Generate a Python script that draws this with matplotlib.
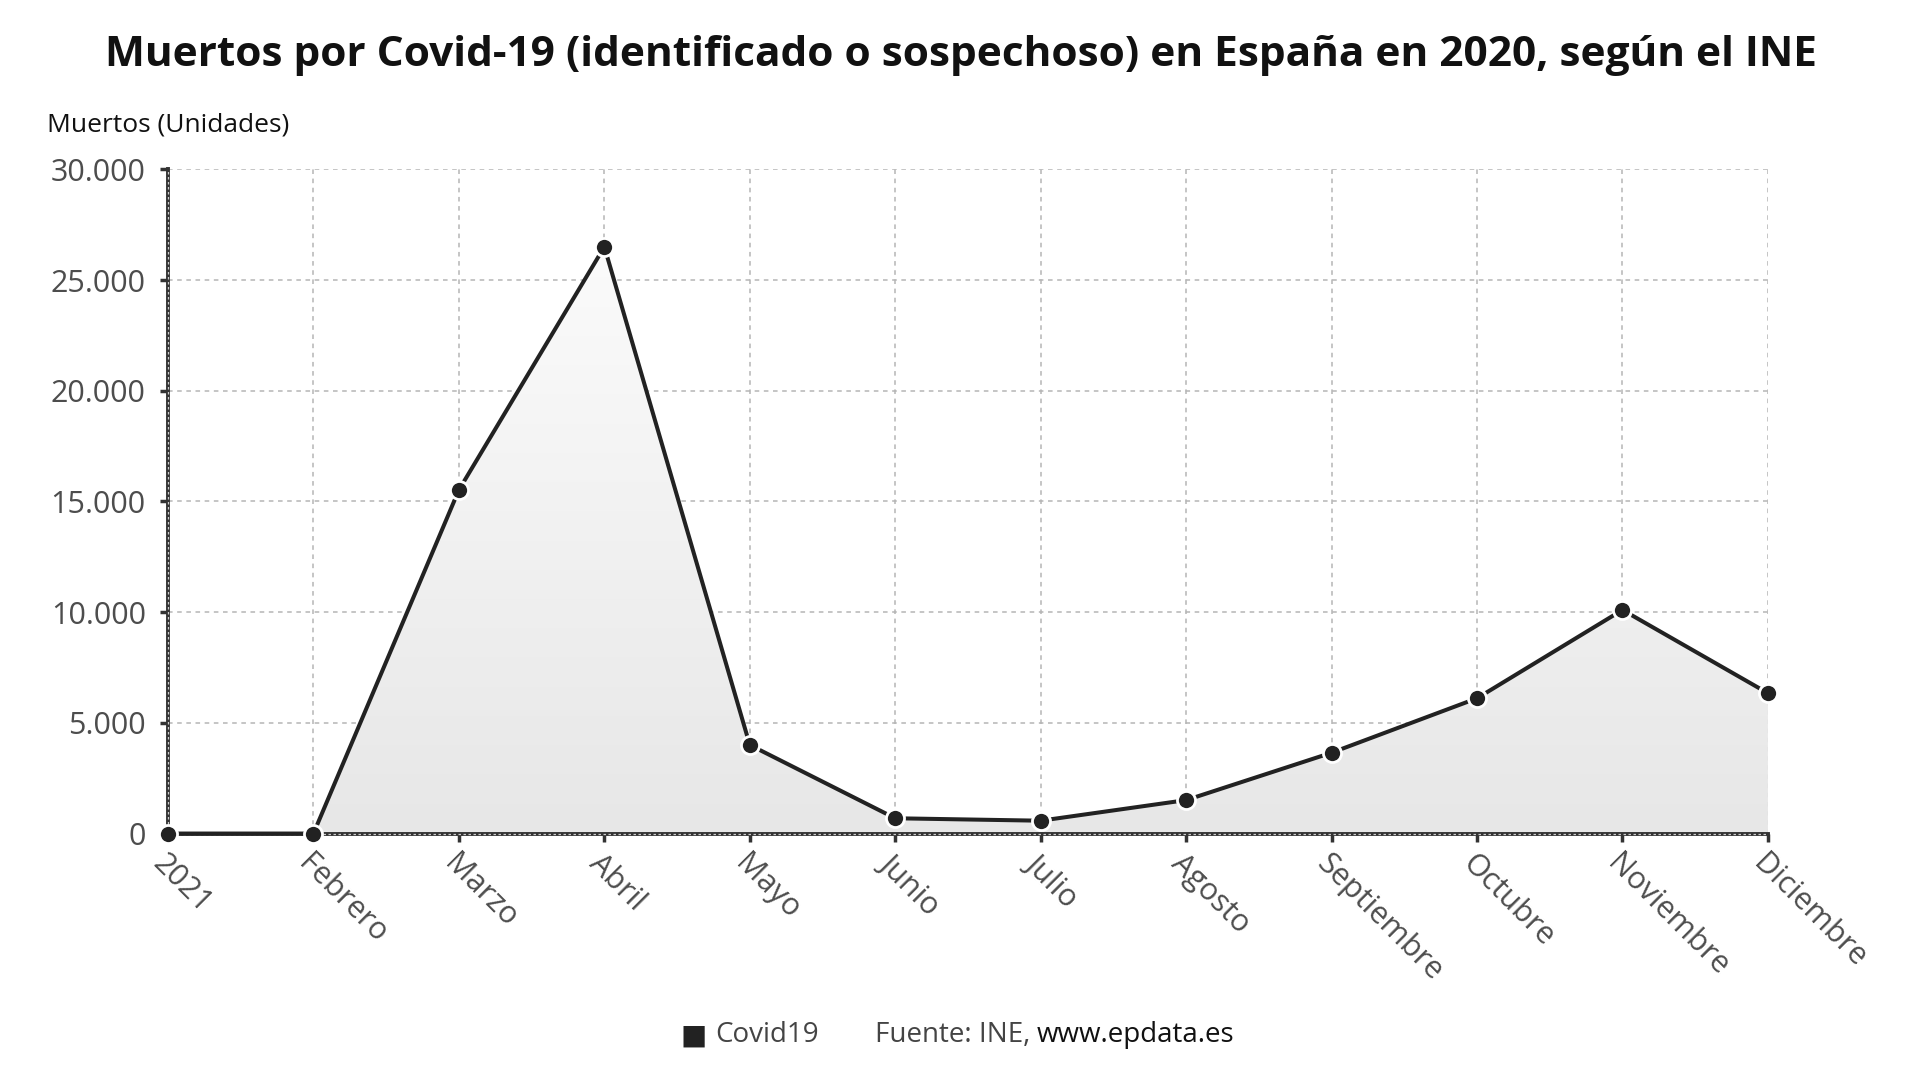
import numpy as np
import matplotlib
matplotlib.use("Agg")
import matplotlib.pyplot as plt
from matplotlib.patches import Polygon
from matplotlib.colors import LinearSegmentedColormap

plt.rcParams['font.family'] = ['Open Sans', 'DejaVu Sans']

# datos (muertes por mes)
meses = ['2021', 'Febrero', 'Marzo', 'Abril', 'Mayo', 'Junio', 'Julio',
         'Agosto', 'Septiembre', 'Octubre', 'Noviembre', 'Diciembre']
muertos = [0, 0, 15520, 26500, 4000, 690, 580, 1510, 3650, 6110, 10100, 6340]
y_ticks = [0, 5000, 10000, 15000, 20000, 25000, 30000]
y_labels = ['0', '5.000', '10.000', '15.000', '20.000', '25.000', '30.000']

x = np.arange(len(meses))

fig = plt.figure(figsize=(19.2, 10.8), dpi=100)
ax = fig.add_axes([0.0875, 0.2282, 0.8333, 0.615])
ax.set_xlim(0, len(meses) - 1)
ax.set_ylim(0, 30000)

# relleno con degradado bajo la curva
grad = np.linspace(0, 1, 256).reshape(-1, 1)
img = ax.imshow(grad, extent=[0, len(meses) - 1, 0, max(muertos)], origin='lower',
                cmap=LinearSegmentedColormap.from_list('g', ['#e7e7e7', '#fbfbfb']),
                aspect='auto', zorder=1)
poly = Polygon(np.column_stack([np.r_[x, x[::-1]], np.r_[muertos, np.zeros(len(x))]]),
               closed=True, facecolor='none', edgecolor='none')
ax.add_patch(poly)
img.set_clip_path(poly)

ax.grid(True, color='#b5b5b5', linestyle=(0, (3, 3)), linewidth=1.1, zorder=0)
ax.set_axisbelow(True)

ax.plot(x, muertos, '-o', color='#222222', lw=2.9, ms=13, mfc='#222222',
        mec='white', mew=2.0, zorder=5, clip_on=False)

for s in ['top', 'right']:
    ax.spines[s].set_visible(False)
for s in ['left', 'bottom']:
    ax.spines[s].set_color('#333333')
    ax.spines[s].set_linewidth(2.8)
    ax.spines[s].set_zorder(3)
ax.plot([0, 0], [0, 30000], color='#cccccc', lw=0.9, ls=(0, (2, 2)), zorder=4, clip_on=False)
ax.plot([0, len(meses) - 1], [0, 0], color='#cccccc', lw=0.9, ls=(0, (2, 2)), zorder=4, clip_on=False)

ax.set_yticks(y_ticks)
ax.set_yticklabels(y_labels)
ax.set_xticks(x)
ax.set_xticklabels(meses, rotation=-45, ha='left', va='top', rotation_mode='anchor')
ax.tick_params(axis='both', colors='#333333', length=6, width=2.5, labelcolor='#4d4d4d',
               labelsize=22)
ax.tick_params(axis='y', pad=10)
ax.tick_params(axis='x', pad=5)

fig.text(0.5005, 0.949, 'Muertos por Covid-19 (identificado o sospechoso) en España en 2020, según el INE',
         ha='center', va='center', fontsize=30.5, fontweight='bold', color='#111111')
fig.text(0.0245, 0.884, 'Muertos (Unidades)', ha='left', va='center', fontsize=19,
         color='#111111')

# leyenda y fuente
ly = 0.0415
fig.text(0.3545, ly, '\u25A0', ha='left', va='center', fontsize=20, color='#222222',
         family=['DejaVu Sans'])
fig.text(0.3725, ly, 'Covid19', ha='left', va='center', fontsize=20, color='#444444')
t1 = fig.text(0.4555, ly, 'Fuente: INE, ', ha='left', va='center', fontsize=20, color='#444444')
fig.canvas.draw()
bb = t1.get_window_extent().transformed(fig.transFigure.inverted())
fig.text(bb.x1, ly, 'www.epdata.es', ha='left', va='center', fontsize=20, color='#111111')

fig.savefig('out.png', dpi=100, facecolor='white')
